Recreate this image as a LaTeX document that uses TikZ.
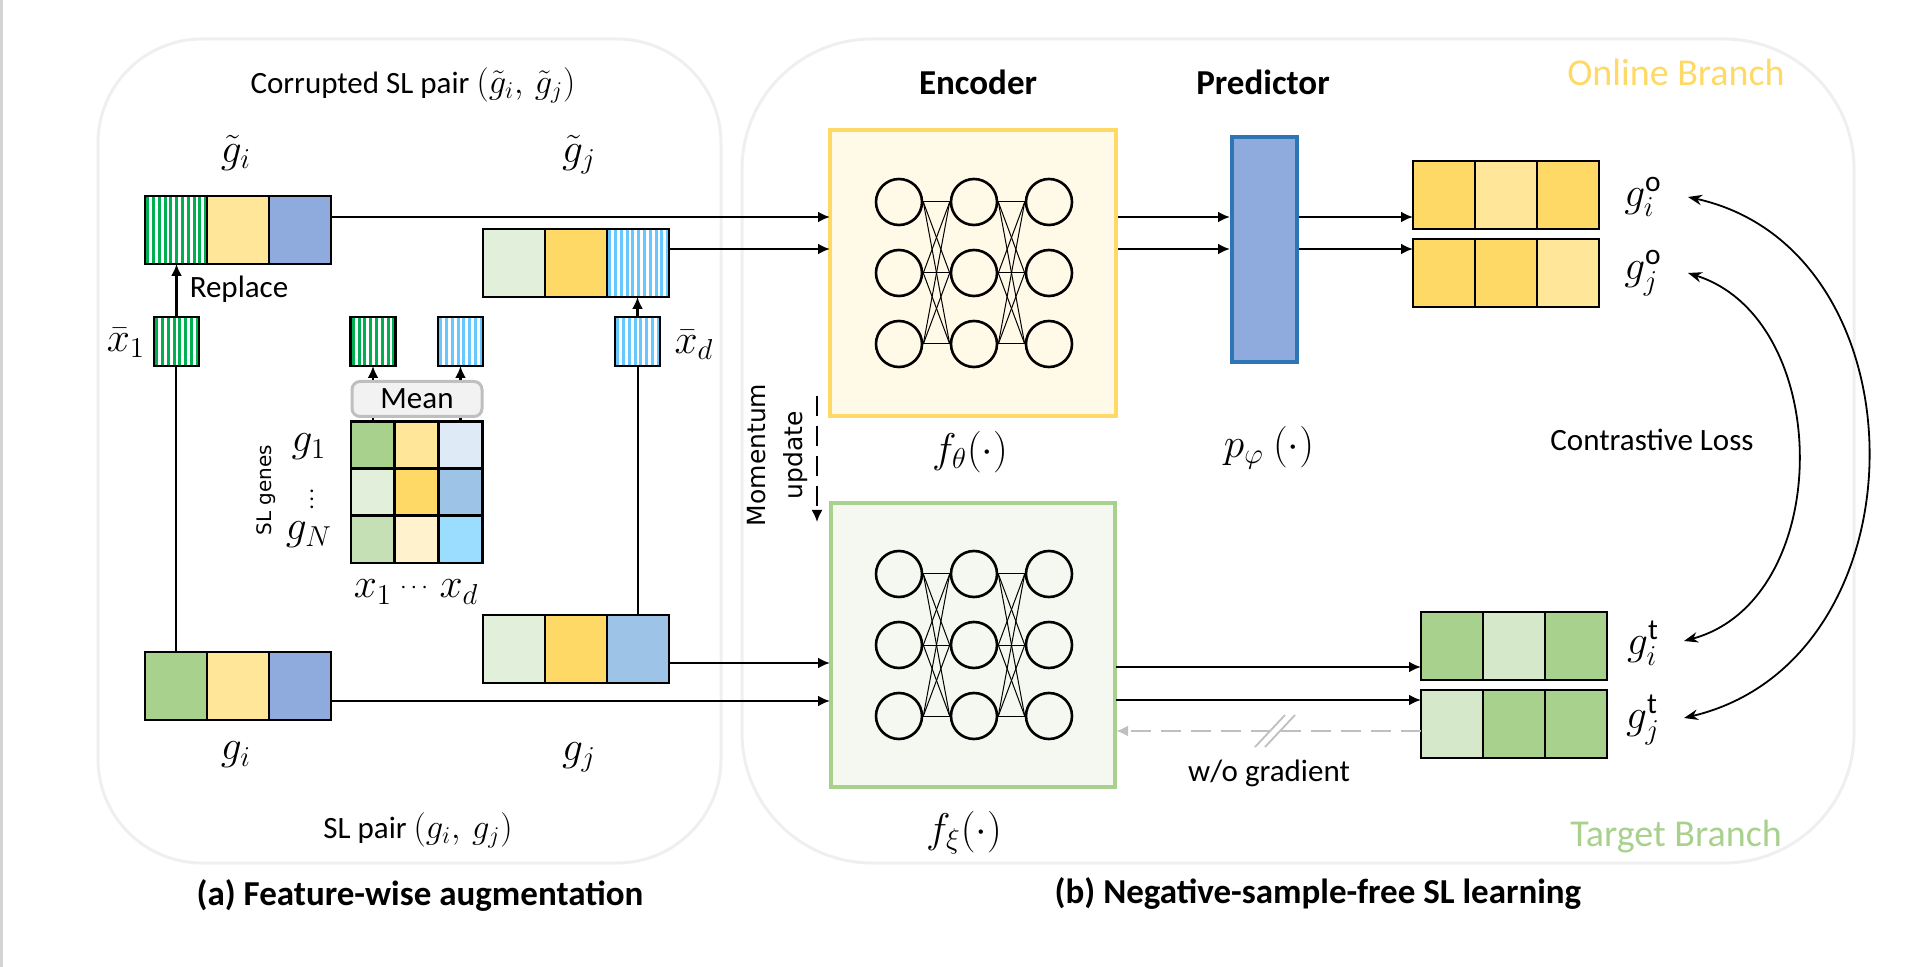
\documentclass[tikz,border=0pt]{standalone}
\usepackage{amsmath}
\usepackage{fontspec}
\setmainfont{Carlito}
\newfontfamily\verdfont{DejaVu Sans}
\usetikzlibrary{arrows.meta,positioning}

\definecolor{gdark}{HTML}{A9D18E}
\definecolor{glight}{HTML}{E2EFDA}
\definecolor{gmid}{HTML}{C5E0B4}
\definecolor{gpale}{HTML}{D5E8CA}
\definecolor{ydark}{HTML}{FFD966}
\definecolor{ylight}{HTML}{FFE699}
\definecolor{ypale}{HTML}{FFF2CC}
\definecolor{bmid}{HTML}{8FAADC}
\definecolor{bsky}{HTML}{9DC3E6}
\definecolor{bpale}{HTML}{DEEBF7}
\definecolor{bcyan}{HTML}{9BDDFF}
\definecolor{stripeg}{HTML}{00B050}
\definecolor{stripeb}{HTML}{66C8FF}
\definecolor{predline}{HTML}{2E75B6}
\definecolor{encfill}{HTML}{FFF9E7}
\definecolor{tgtfill}{HTML}{F4F8F0}
\definecolor{panel}{HTML}{EFEFEF}
\definecolor{meanfill}{HTML}{F2F2F2}
\definecolor{meanline}{HTML}{BFBFBF}
\definecolor{edgegray}{HTML}{D4D4D4}

\tikzset{
  cell/.style={draw, line width=1.4pt, minimum width=31pt, minimum height=34pt, inner sep=0pt, outer sep=0pt},
  sbox/.style={draw, line width=1.4pt, minimum width=22.5pt, minimum height=24.5pt, inner sep=0pt, outer sep=0pt},
  mcell/.style={draw, line width=1.2pt, minimum width=22pt, minimum height=23.5pt, inner sep=0pt, outer sep=0pt},
  stripes/.style={fill=white, path picture={
      \foreach \k in {0,...,10}
        \fill[#1] ([xshift=\k*2.9pt+0.6pt]path picture bounding box.south west) rectangle ++(1.5pt,40pt);}},
  gstripe/.style={stripes=stripeg},
  bstripe/.style={stripes=stripeb},
  neuron/.style={circle, draw, line width=1.3pt, minimum size=23pt, inner sep=0pt},
  txt/.style={font=\fontsize{15.5}{18}\selectfont},
  btxt/.style={font=\fontsize{17.5}{20}\selectfont\bfseries},
  mlbl/.style={font=\fontsize{21}{24}\selectfont},
  verd/.style={font=\verdfont\fontsize{12.5}{18.5}\selectfont},
}

% one gene vector = three cells side by side
\newcommand{\slvec}[6]{%
  \node[cell, #4, anchor=north west] (#11) at (#2,#3) {};
  \node[cell, #5, right=0pt of #11] (#12) {};
  \node[cell, #6, right=0pt of #12] (#13) {};
}
% bigger inline math inside text labels
\newcommand{\bm}[1]{{\fontsize{18.5}{20}\selectfont$#1$}}

\begin{document}
\begin{tikzpicture}[x=0.5pt,y=-0.5pt,>={Latex[length=6pt,width=5.5pt]}]
\useasboundingbox (0,0) rectangle (1916,967);
\draw[edgegray, line width=1.5pt] (1.5,0) -- (1.5,967);

% Panels
\draw[panel, line width=1.5pt, rounded corners=52pt] (98,39) rectangle (721,863);
\draw[panel, line width=1.5pt, rounded corners=65pt] (742,39) rectangle (1854,863);

% (a) Feature-wise augmentation
\node[txt] (corrupt) at (413,85) {Corrupted SL pair \bm{(\tilde{g}_i,\, \tilde{g}_j)}};
\node[mlbl] (lgti) at (236,153) {$\tilde{g}_i$};
\node[mlbl] (lgtj) at (579,155) {$\tilde{g}_j$};

\slvec{gti}{145}{196}{gstripe}{fill=ylight}{fill=bmid}
\slvec{gtj}{483}{229}{fill=glight}{fill=ydark}{bstripe}
\slvec{gj}{483}{615}{fill=glight}{fill=ydark}{fill=bsky}
\slvec{gi}{145}{652}{fill=gdark}{fill=ylight}{fill=bmid}

\node[sbox, gstripe] (xb1) at (176.5,341.5) {};
\node[sbox, gstripe] (mg) at (373,341.5) {};
\node[sbox, bstripe] (mb) at (460.5,341.5) {};
\node[sbox, bstripe] (xbd) at (637.5,341.5) {};
\node[mlbl] (lxb1) at (126,343) {$\bar{x}_1$};
\node[mlbl] (lxbd) at (694,345) {$\bar{x}_d$};

\node[draw=meanline, fill=meanfill, line width=1.5pt, rounded corners=4pt,
  minimum width=65pt, minimum height=17.5pt, inner sep=0pt, txt] (mean) at (417,399) {Mean};

% Gene feature matrix
\node[mcell, fill=gdark] (m11) at (373,445) {};
\node[mcell, fill=ylight] (m12) at (416.5,445) {};
\node[mcell, fill=bpale] (m13) at (460.5,445) {};
\node[mcell, fill=glight] (m21) at (373,492) {};
\node[mcell, fill=ydark] (m22) at (416.5,492) {};
\node[mcell, fill=bsky] (m23) at (460.5,492) {};
\node[mcell, fill=gmid] (m31) at (373,539.5) {};
\node[mcell, fill=ypale] (m32) at (416.5,539.5) {};
\node[mcell, fill=bcyan] (m33) at (460.5,539.5) {};
\node[mlbl] (lg1) at (309,447) {$g_1$};
\node[font=\fontsize{11}{12}\selectfont, inner sep=0pt] (ldots) at (312,493) {$\vdots$};
\node[mlbl] (lgN) at (309,535) {$g_N$};
\node[verd, font=\verdfont\fontsize{10}{12}\selectfont, rotate=90] (slgenes) at (266,490) {SL genes};
\node[mlbl] (lx1) at (373,592) {$x_1$};
\node[font=\fontsize{12}{14}\selectfont] (lxdots) at (416,588) {$\cdots$};
\node[mlbl] (lxd) at (459,592) {$x_d$};

\draw[line width=1.2pt] (m11.north) -- (m11.north |- mean.south);
\draw[line width=1.2pt] (m13.north) -- (m13.north |- mean.south);
\draw[->, line width=1.2pt] (mean.north -| mg) -- (mg.south);
\draw[->, line width=1.2pt] (mean.north -| mb) -- (mb.south);

\draw[line width=1.1pt] (gi1.north) -- (gi1.north |- xb1.south);
\draw[->, line width=1.1pt] (xb1.north) -- (xb1.north |- gti1.south);
\draw[line width=1.1pt] (gj3.north) -- (gj3.north |- xbd.south);
\draw[->, line width=1.1pt] (xbd.north) -- (xbd.north |- gtj3.south);
\node[txt] (replace) at (239,289) {Replace};

\node[mlbl] (lgi) at (236,755) {$g_i$};
\node[mlbl] (lgj) at (579,757) {$g_j$};
\node[txt] (slpair) at (418,830) {SL pair \bm{(g_i,\, g_j)}};
\node[btxt] (capa) at (420,895) {(a) Feature-wise augmentation};

% (b) Negative-sample-free SL learning
\node[draw=ydark, fill=encfill, line width=2pt, minimum size=143pt, inner sep=0pt] (enc) at (973,273) {};
\node[draw=gdark, fill=tgtfill, line width=2pt, minimum size=142pt, inner sep=0pt] (tgt) at (973,645) {};
\node[draw=predline, fill=bmid, line width=2pt, minimum width=32.5pt, minimum height=112.5pt, inner sep=0pt] (pred) at (1264.5,249.5) {};

\foreach \i in {1,2,3}
  \foreach \j in {1,2,3} {
    \node[neuron] (e\i\j) at ({824+75*\i},{202+71*(\j-1)}) {};
    \node[neuron] (t\i\j) at ({824+75*\i},{574+71*(\j-1)}) {};
  }
\foreach \i/\k in {1/2,2/3}
  \foreach \j in {1,2,3}
    \foreach \l in {1,2,3} {
      \draw[line width=0.5pt] (e\i\j.east) -- (e\k\l.west);
      \draw[line width=0.5pt] (t\i\j.east) -- (t\k\l.west);
    }

\node[btxt] (lenc) at (978,82) {Encoder};
\node[btxt] (lpred) at (1263,82) {Predictor};
\node[mlbl] (lfth) at (970,452) {$f_{\theta}(\cdot)$};
\node[mlbl] (lpphi) at (1269,448) {$p_{\varphi}\ (\cdot)$};
\node[mlbl] (lfxi) at (964,833) {$f_{\xi}(\cdot)$};

\slvec{gio}{1413}{161}{fill=ydark}{fill=ylight}{fill=ydark}
\slvec{gjo}{1413}{239}{fill=ydark}{fill=ydark}{fill=ylight}
\slvec{git}{1421}{612}{fill=gdark}{fill=gpale}{fill=gdark}
\slvec{gjt}{1421}{690}{fill=gpale}{fill=gdark}{fill=gdark}

\node[mlbl] (lgio) at (1643,197) {$g_i^{\mathrm{o}}$};
\node[mlbl] (lgjo) at (1643,273) {$g_j^{\mathrm{o}}$};
\node[mlbl] (lgit) at (1643,643) {$g_i^{\mathrm{t}}$};
\node[mlbl] (lgjt) at (1643,720) {$g_j^{\mathrm{t}}$};

\coordinate (in1) at (830,217);
\coordinate (in2) at (830,249);
\coordinate (tin1) at (830,663);
\coordinate (tin2) at (830,701);
\coordinate (tout1) at (1116,667);
\coordinate (tout2) at (1116,700);
\coordinate (back) at (1116,731);

\draw[->, line width=1.3pt] (gti3.east |- in1) -- (in1);
\draw[->, line width=1.3pt] (gtj3.east |- in2) -- (in2);
\draw[->, line width=1.3pt] (enc.east |- in1) -- (pred.west |- in1);
\draw[->, line width=1.3pt] (enc.east |- in2) -- (pred.west |- in2);
\draw[->, line width=1.3pt] (pred.east |- in1) -- (gio1.west |- in1);
\draw[->, line width=1.3pt] (pred.east |- in2) -- (gjo1.west |- in2);
\draw[->, line width=1.3pt] (gj3.east |- tin1) -- (tin1);
\draw[->, line width=1.3pt] (gi3.east |- tin2) -- (tin2);
\draw[->, line width=1.3pt] (tout1) -- (git1.west |- tout1);
\draw[->, line width=1.3pt] (tout2) -- (gjt1.west |- tout2);

% stop-gradient path
\draw[->, meanline, line width=1.4pt, dash pattern=on 10pt off 5pt] (gjt1.west |- back) -- (back);
\draw[meanline, line width=0.9pt] (1285,715) -- (1255,747);
\draw[meanline, line width=0.9pt] (1295,715) -- (1265,747);
\node[txt] (lwog) at (1269,773) {w/o gradient};

% momentum update
\node[verd, rotate=90, align=center] (mom) at (777,455) {Momentum\\update};
\coordinate (mtop) at (817,396);
\coordinate (mbot) at (817,522);
\draw[->, line width=1pt, dash pattern=on 10pt off 5pt] (mtop) -- (mbot);

% contrastive loss
\coordinate (cio) at (1688,197);
\coordinate (cjo) at (1688,273);
\coordinate (cit) at (1684,641);
\coordinate (cjt) at (1684,718);
\draw[{Stealth[length=7pt]}-{Stealth[length=7pt]}, line width=0.9pt] (cio) .. controls (1928,250) and (1928,660) .. (cjt);
\draw[{Stealth[length=7pt]}-{Stealth[length=7pt]}, line width=0.9pt] (cjo) .. controls (1835,320) and (1835,600) .. (cit);
\node[txt] (lcl) at (1652,440) {Contrastive Loss};

\node[txt, font=\fontsize{19}{22}\selectfont, text=ydark] (lonline) at (1676,72) {Online Branch};
\node[txt, font=\fontsize{19}{22}\selectfont, text=gdark] (ltarget) at (1676,837) {Target Branch};
\node[btxt] (capb) at (1318,893) {(b) Negative-sample-free SL learning};
\end{tikzpicture}
\end{document}
